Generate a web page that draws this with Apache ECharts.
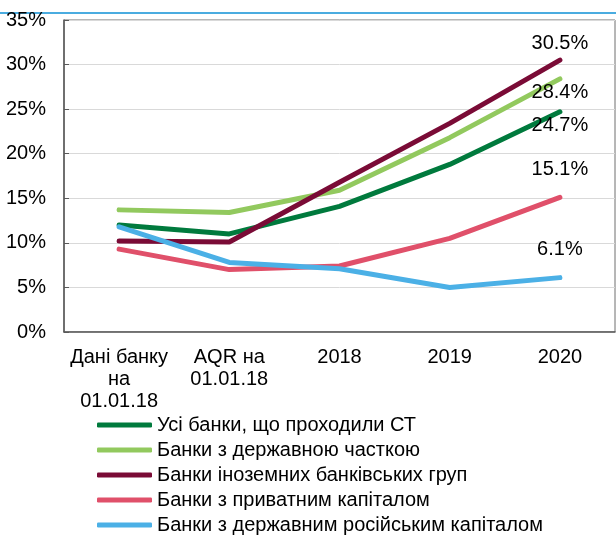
<!DOCTYPE html>
<html>
<head>
<meta charset="utf-8">
<script src="https://cdn.jsdelivr.net/npm/echarts@6/dist/echarts.min.js"></script>
<style>
  html, body { margin: 0; padding: 0; background: #fff; }
  #chart { width: 616px; height: 535px; }
</style>
</head>
<body>
<div id="chart"></div>
<script>
// categories on the x axis
const categories = ['Дані банку\nна\n01.01.18', 'AQR на\n01.01.18', '2018', '2019', '2020'];

// series values, %
const allBanks = [12.0, 11.0, 14.1, 18.8, 24.7];
const stateBanks = [13.7, 13.4, 15.9, 21.8, 28.4];
const foreignBanks = [10.2, 10.1, 16.8, 23.4, 30.5];
const privateBanks = [9.3, 7.0, 7.4, 10.5, 15.1];
const russianBanks = [11.8, 7.8, 7.1, 5.0, 6.1];

const seriesNames = [
    'Усі банки, що проходили СТ',
    'Банки з державною часткою',
    'Банки іноземних банківських груп',
    'Банки з приватним капіталом',
    'Банки з державним російським капіталом'
];

const chart = echarts.init(document.getElementById('chart'));
const font = 'Arial, "Liberation Sans", sans-serif';

// label only on the last point
function makeData(values, pos, dist) {
    return values.map((v, i) => {
        if (i !== values.length - 1) return v;
        return {
            value: v,
            label: {
                show: true,
                position: pos,
                distance: dist,
                formatter: v.toFixed(1) + '%',
                color: '#000',
                fontSize: 20,
                fontFamily: font
            }
        };
    });
}

function makeSeries(name, values, color, pos, dist) {
    return {
        name: name,
        type: 'line',
        data: makeData(values, pos, dist),
        symbol: 'circle',
        symbolSize: 0,
        showSymbol: true,
        lineStyle: { color: color, width: 5, cap: 'round' },
        itemStyle: { color: color }
    };
}

const option = {
    animation: false,
    grid: {
        left: 64,
        right: 1,
        top: 20,
        bottom: 203,
        show: true,
        borderColor: '#6e6e6e',
        borderWidth: 1
    },
    graphic: [{
        type: 'rect',
        shape: { x: 0, y: 12, width: 616, height: 2 },
        style: { fill: '#4aace0' }
    }],
    legend: {
        orient: 'vertical',
        left: 97,
        top: 415,
        height: 125,
        padding: 0,
        itemWidth: 55,
        itemHeight: 5,
        itemGap: 5,
        icon: 'roundRect',
        textStyle: { fontSize: 20, fontFamily: font, color: '#000', lineHeight: 20 },
        data: seriesNames
    },
    xAxis: {
        type: 'category',
        data: categories,
        boundaryGap: true,
        axisLine: { lineStyle: { color: '#595959', width: 1.5 } },
        axisTick: { inside: true, length: 5, lineStyle: { color: '#595959' } },
        axisLabel: {
            color: '#000',
            fontSize: 20,
            fontFamily: font,
            lineHeight: 22,
            margin: 14,
            interval: 0
        }
    },
    yAxis: {
        type: 'value',
        min: 0,
        max: 35,
        interval: 5,
        axisLine: { show: true, lineStyle: { color: '#595959', width: 1.5 } },
        axisTick: { show: true, inside: true, length: 5, lineStyle: { color: '#595959' } },
        splitLine: { lineStyle: { color: '#d9d9d9', width: 1 } },
        axisLabel: {
            formatter: '{value}%',
            color: '#000',
            fontSize: 20,
            fontFamily: font,
            margin: 18
        }
    },
    series: [
        makeSeries(seriesNames[0], allBanks, '#007a3d', 'bottom', 4),
        makeSeries(seriesNames[1], stateBanks, '#92c95e', 'bottom', 4),
        makeSeries(seriesNames[2], foreignBanks, '#7a0b36', 'top', 7),
        makeSeries(seriesNames[3], privateBanks, '#e0506a', 'top', 18),
        makeSeries(seriesNames[4], russianBanks, '#4bb0e6', 'top', 18)
    ]
};

chart.setOption(option);
</script>
</body>
</html>
